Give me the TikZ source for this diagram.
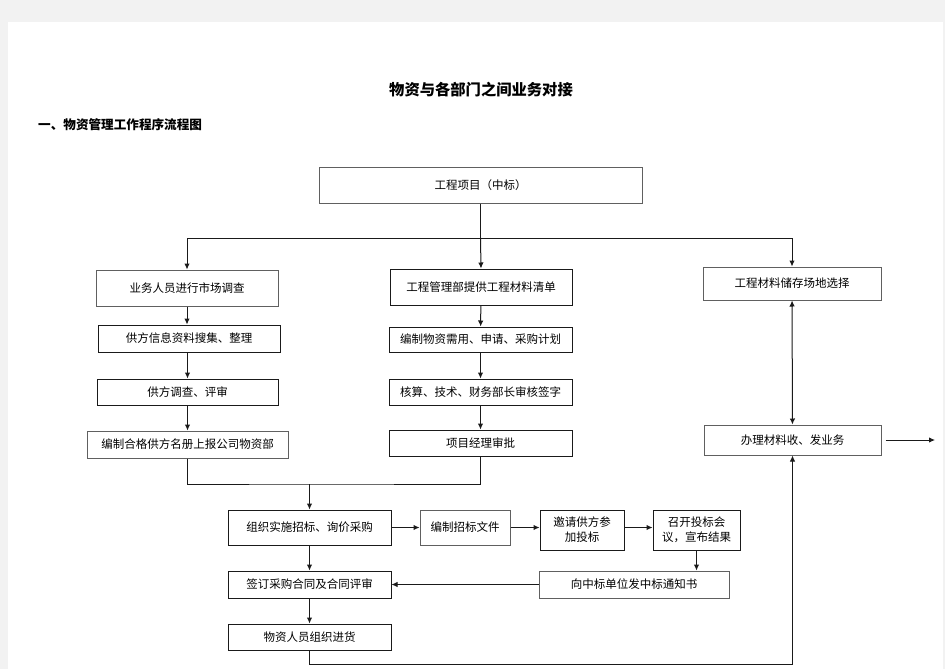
\documentclass[tikz,border=0pt]{standalone}
\usepackage{fontspec}
\usepackage{xcolor}
\usepackage{tikz}
\usetikzlibrary{arrows.meta}
\newfontfamily\cjk{Noto Sans CJK SC}
\definecolor{pagegray}{HTML}{F2F2F2}
\definecolor{framegray}{HTML}{606060}
\definecolor{linedark}{HTML}{1A1A1A}

\begin{document}
\begin{tikzpicture}[x=1pt,y=-1pt,
  flowbox/.style={draw=linedark,line width=1pt,inner sep=1pt,align=center,
    font=\cjk\fontsize{11.5}{15}\selectfont},
  lightbox/.style={flowbox,draw=framegray},
  arr/.style={-{Latex[length=6pt,width=5.5pt]},line width=1pt,draw=linedark},
  link/.style={line width=1pt,draw=linedark}]
% page
\fill[pagegray] (0,0) rectangle (945,669);
\fill[white] (8,22) rectangle (943,669);
\useasboundingbox (0,0) rectangle (945,669);

% titles
\node[font=\cjk\bfseries\fontsize{15.3}{18}\selectfont] (title) at (481,90) {物资与各部门之间业务对接};
\node[font=\cjk\bfseries\fontsize{12.6}{15}\selectfont,anchor=west,inner sep=0pt] (heading) at (38,125) {一、物资管理工作程序流程图};

% top
\node[lightbox,minimum width=323pt,minimum height=36pt] (proj) at (480.5,185) {工程项目（中标）};

% left column
\node[lightbox,minimum width=182pt,minimum height=36pt] (survey) at (187,288) {业务人员进行市场调查};
\node[flowbox,minimum width=182pt,minimum height=27pt] (info) at (189,338.5) {供方信息资料搜集、整理};
\node[flowbox,minimum width=181pt,minimum height=26pt] (review) at (187.5,392) {供方调查、评审};
\node[lightbox,minimum width=201pt,minimum height=27pt] (roster) at (187.5,444.5) {编制合格供方名册上报公司物资部};

% middle column
\node[flowbox,minimum width=182pt,minimum height=36pt] (list) at (481,287) {工程管理部提供工程材料清单};
\node[flowbox,minimum width=183pt,minimum height=25pt] (plan) at (480.5,339.5) {编制物资需用、申请、采购计划};
\node[flowbox,minimum width=183pt,minimum height=26pt] (sign) at (480.5,392) {核算、技术、财务部长审核签字};
\node[flowbox,minimum width=183pt,minimum height=26pt] (approve) at (480.5,443) {项目经理审批};

% right column
\node[lightbox,minimum width=178pt,minimum height=33pt] (storage) at (792,283.5) {工程材料储存场地选择};
\node[lightbox,minimum width=177pt,minimum height=30pt] (handle) at (792.5,440) {办理材料收、发业务};

% tendering
\node[flowbox,minimum width=163pt,minimum height=35pt] (bid) at (309.5,527.5) {组织实施招标、询价采购};
\node[lightbox,minimum width=90pt,minimum height=35pt] (doc) at (465,527.5) {编制招标文件};
\node[flowbox,minimum width=84pt,minimum height=40pt] (invite) at (582,530) {邀请供方参\\加投标};
\node[flowbox,minimum width=87pt,minimum height=40pt] (meeting) at (696.5,530) {召开投标会\\议，宣布结果};
\node[lightbox,minimum width=190pt,minimum height=27pt] (notice) at (634,584.5) {向中标单位发中标通知书};
\node[flowbox,minimum width=163pt,minimum height=27pt] (contract) at (309.5,584.5) {签订采购合同及合同评审};
\node[flowbox,minimum width=163pt,minimum height=26pt] (purchase) at (309.5,637) {物资人员组织进货};

% connectors
\coordinate (split) at (480.5,238);
\coordinate (merge) at (309.5,484);
\coordinate (low) at (309.5,664);
\coordinate (out) at (935,440);

\draw[link] (proj.south) -- (split);
\draw[arr] (split) -| (survey.north);
\draw[arr] (split) -- (list.north);
\draw[arr] (split) -| (storage.north);

\draw[arr] (survey) -- (survey.south |- info.north);
\draw[arr] (info.south -| review.north) -- (review.north);
\draw[arr] (review) -- (roster);
\draw[arr] (list) -- (plan);
\draw[arr] (plan) -- (sign);
\draw[arr] (sign) -- (approve);

\draw[link] (roster.south) |- (merge) -| (approve.south);
\draw[arr] (merge) -- (bid.north);

\draw[arr] (bid.east) -- (doc.west);
\draw[arr] (doc.east) -- (doc.east -| invite.west);
\draw[arr] (invite.east |- doc.east) -- (doc.east -| meeting.west);
\draw[arr] (meeting.south) -- (meeting.south |- notice.north);
\draw[arr] (notice.west) -- (contract.east);
\draw[arr] (bid) -- (contract);
\draw[arr] (contract) -- (purchase);

\draw[arr] (purchase.south) -- (low) -| (handle.south);
\draw[arr,{Latex[length=6pt,width=5.5pt]}-{Latex[length=6pt,width=5.5pt]}] (storage) -- (handle);
\draw[arr,shorten <=4pt] (handle.east) -- (out);
\end{tikzpicture}
\end{document}
